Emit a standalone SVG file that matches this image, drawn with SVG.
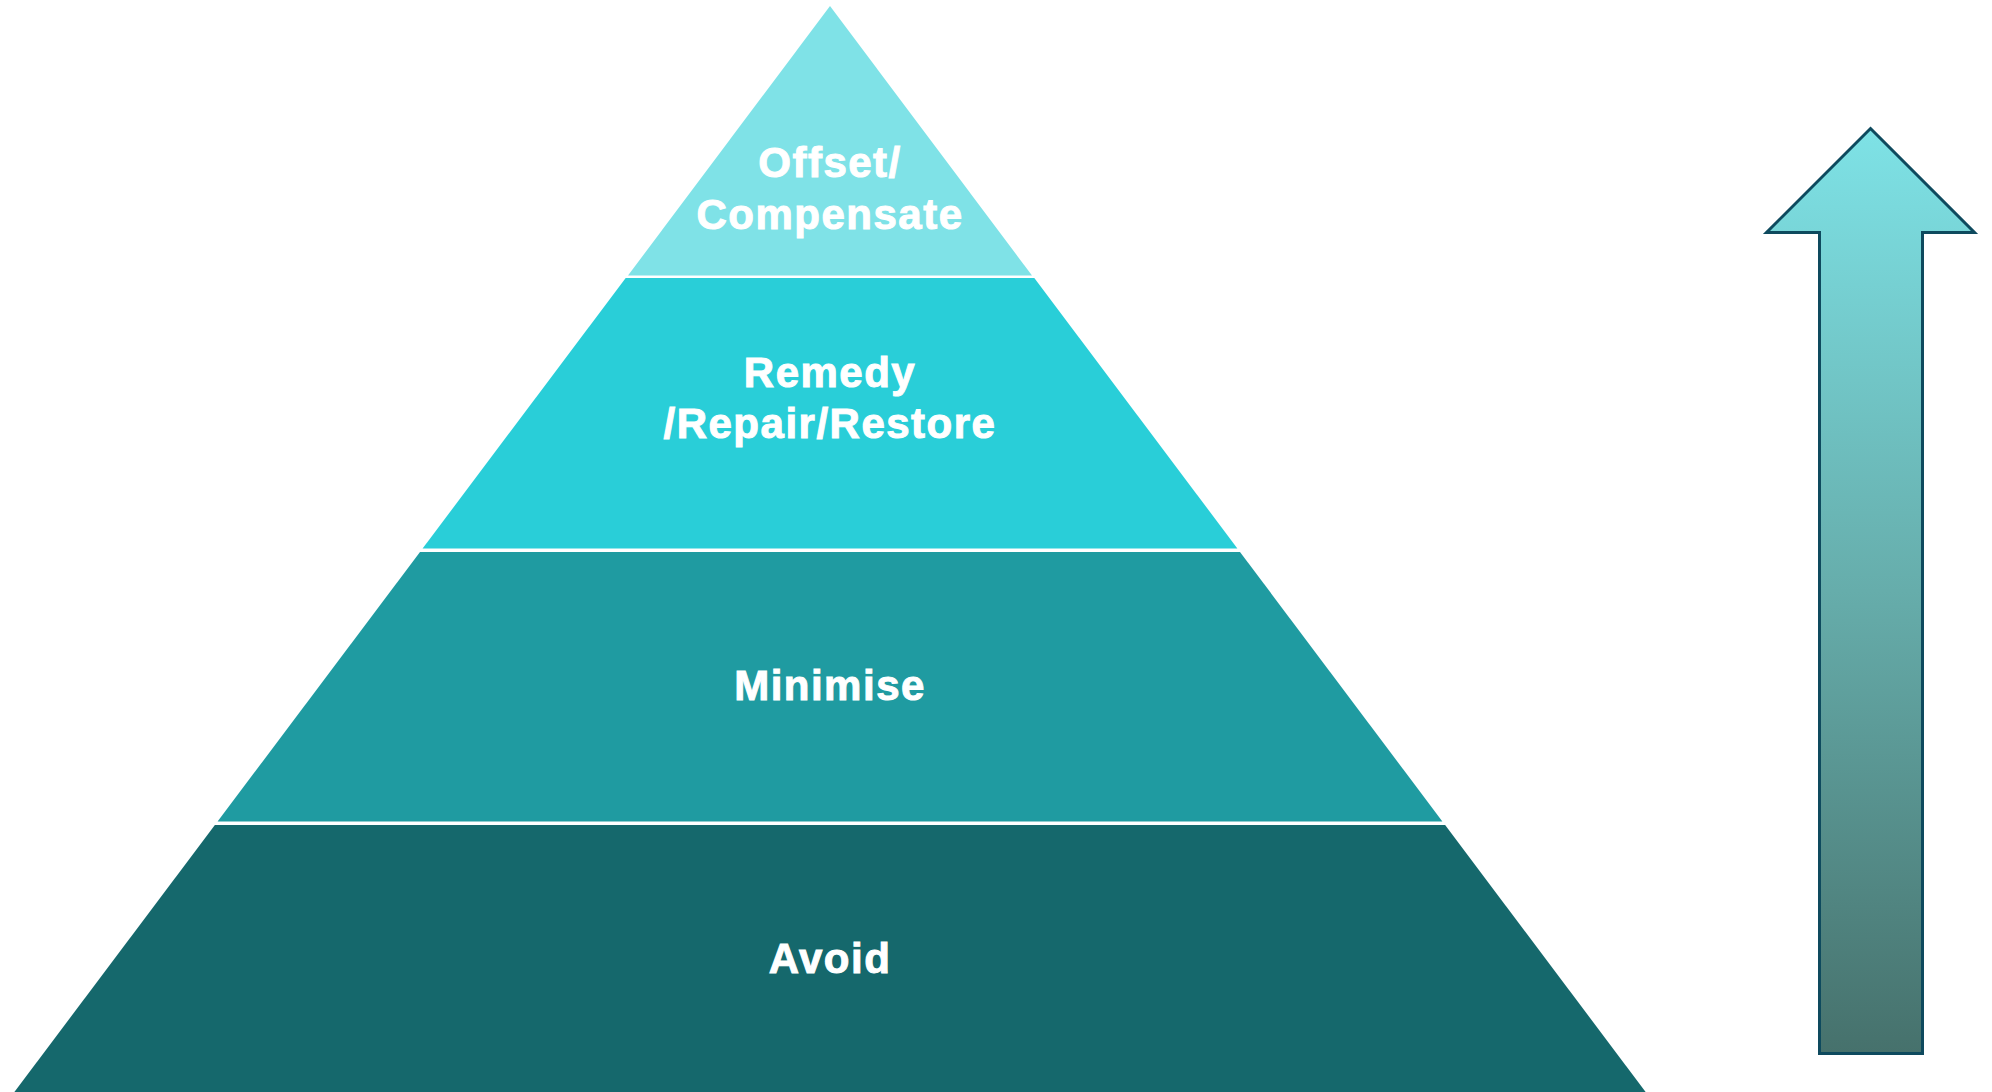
<svg xmlns="http://www.w3.org/2000/svg" width="1992" height="1092" viewBox="0 0 1992 1092">
<style>
.lbl{font-family:"Liberation Sans",Arial,sans-serif;font-weight:bold;font-size:42px;fill:#ffffff;stroke:#ffffff;stroke-width:1px;text-anchor:middle;letter-spacing:1.5px}
</style>
<defs>
<linearGradient id="ag" x1="0" y1="0" x2="0" y2="1">
<stop offset="0" stop-color="#7ee2e6"/>
<stop offset="0.5" stop-color="#66adab"/>
<stop offset="1" stop-color="#46716c"/>
</linearGradient>
</defs>
<rect width="1992" height="1092" fill="#ffffff"/>
<g id="tier-offset">
<polygon points="830,6 1032,275.5 628,275.5" fill="#7fe2e7"/>
<text class="lbl" x="830" y="177">Offset/</text>
<text class="lbl" x="830" y="229">Compensate</text>
</g>
<g id="tier-remedy">
<polygon points="625.7,278 1034.3,278 1237.4,548.5 422.6,548.5" fill="#29ced8"/>
<text class="lbl" x="830" y="387">Remedy</text>
<text class="lbl" x="830" y="438">/Repair/Restore</text>
</g>
<g id="tier-minimise">
<polygon points="420,552 1240,552 1442.4,821.5 217.6,821.5" fill="#1f9ba1"/>
<text class="lbl" x="830" y="700">Minimise</text>
</g>
<g id="tier-avoid">
<polygon points="214.9,825 1445.1,825 1646,1092.5 14,1092.5" fill="#15686c"/>
<text class="lbl" x="830" y="973">Avoid</text>
</g>
<g id="arrow">
<path d="M1870.5,128.5 L1974.5,232.5 L1922.5,232.5 L1922.5,1053.5 L1819.5,1053.5 L1819.5,232.5 L1766.5,232.5 Z" fill="url(#ag)" stroke="#0e4a5e" stroke-width="3" stroke-linejoin="miter"/>
</g>
<g id="connectors"></g>
</svg>
